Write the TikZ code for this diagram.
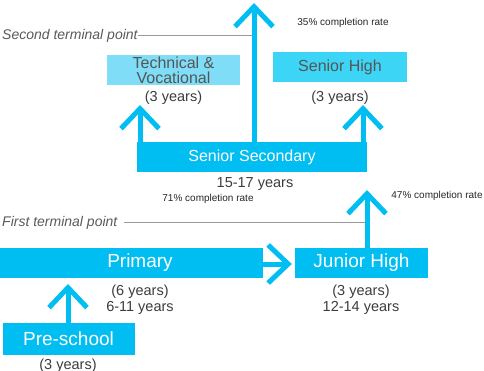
\documentclass[tikz,border=0pt]{standalone}
\usepackage{fontspec}
\setmainfont{Liberation Sans}
\usetikzlibrary{arrows.meta}
\definecolor{mainblue}{HTML}{00BEF2}
\definecolor{lightblue}{HTML}{7FDDF7}
\definecolor{midblue}{HTML}{3DD5F5}
\definecolor{darktext}{HTML}{3C3C3C}
\definecolor{boxtext}{HTML}{555555}
\definecolor{termgray}{HTML}{9A9A9A}
\definecolor{termtext}{HTML}{5A5A5A}
\begin{document}
\begin{tikzpicture}[x=1pt,y=-1pt,
  bluebox/.style={fill=mainblue, inner sep=0pt, minimum height=30pt},
  bigtext/.style={text=white, font=\fontsize{19}{19}\selectfont, inner sep=0pt},
  midtext/.style={text=white, font=\fontsize{16}{16}\selectfont, inner sep=0pt},
  upbox/.style={inner sep=0pt, minimum height=30pt, text=boxtext, align=center,
    font=\fontsize{16}{15}\selectfont},
  years/.style={text=darktext, font=\fontsize{14.5}{16.5}\selectfont, align=center, inner sep=0pt},
  rate/.style={text=black!85, font=\fontsize{10}{10}\selectfont, inner sep=0pt},
  term/.style={text=termtext, font=\fontsize{14}{14}\selectfont\itshape, inner sep=0pt, anchor=west},
  termline/.style={draw=termgray, line width=1pt},
  chev/.style={draw=mainblue, line width=5pt, -{Straight Barb[length=20pt, width=38pt]}},
]
\useasboundingbox (0,0) rectangle (484,371);

% boxes
\node[bluebox, minimum width=230pt] (ss) at (252,157.5) {};
\node[midtext] (sst) at (252,157.5) {Senior Secondary};
\node[upbox, fill=lightblue, minimum width=133pt] (tv) at (173.5,70) {Technical \&\\Vocational};
\node[upbox, fill=midblue, minimum width=134pt] (sh) at (340,67) {Senior High};
\node[bluebox, minimum width=263pt] (pr) at (131.5,263) {};
\node[bigtext] (prt) at (140,263) {Primary};
\node[bluebox, minimum width=133pt] (jh) at (361.5,263) {};
\node[bigtext] (jht) at (361.5,263) {Junior High};
\node[bluebox, minimum width=132pt, minimum height=32pt] (ps) at (69,339) {};
\node[bigtext] (pst) at (68.5,339) {Pre-school};

% year labels
\node[years] (tvy) at (173.5,97.5) {(3 years)};
\node[years] (shy) at (340,97.5) {(3 years)};
\node[years] (ssy) at (255,184) {15-17 years};
\node[years] (pry) at (140,300) {(6 years)\\6-11 years};
\node[years] (jhy) at (361,300) {(3 years)\\12-14 years};
\node[years] (psy) at (68,366) {(3 years)};

% completion rates
\node[rate] (r35) at (343,23) {35\% completion rate};
\node[rate] (r71) at (208,199) {71\% completion rate};
\node[rate] (r47) at (437,196) {47\% completion rate};

% terminal points
\node[term] (t2) at (2,35.5) {Second terminal point};
\node[term] (t1) at (2,223) {First terminal point};

% arrow ends
\coordinate (a1) at (254,3);
\coordinate (a2) at (140,105);
\coordinate (a3) at (363,105);
\coordinate (a4) at (367,190);
\coordinate (a6) at (68,284);

\draw[termline] (t2.east) -- (t2.east -| a1);
\draw[termline] ([xshift=6pt]t1.east) -- (t1.east -| a4);

\draw[chev] (ss.north -| a1) -- (a1);
\draw[chev] (ss.north -| a2) -- (a2);
\draw[chev] (ss.north -| a3) -- (a3);
\draw[chev] (jh.north -| a4) -- (a4);
\draw[chev] ([yshift=-1pt]pr.east) -- ([xshift=-3pt,yshift=-1pt]jh.west);
\draw[chev] (ps.north -| a6) -- (a6);
\end{tikzpicture}
\end{document}
